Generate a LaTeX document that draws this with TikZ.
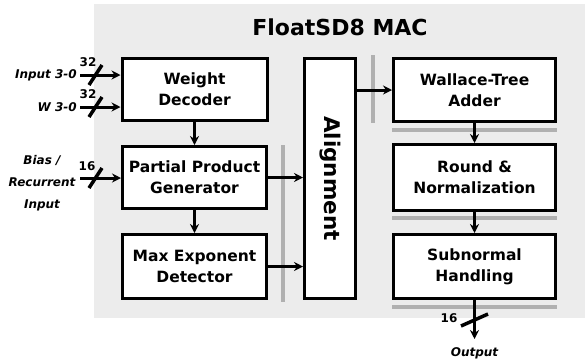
\documentclass[tikz,border=0pt]{standalone}
\usepackage{fontspec}
\setmainfont{DejaVu Sans}
\usetikzlibrary{arrows.meta}
\definecolor{bgc}{HTML}{ECECEC}
\definecolor{barc}{HTML}{B0B0B0}
\tikzset{
  blk/.style={draw=black, line width=3pt, fill=white, inner sep=0pt, align=center,
    font=\fontsize{15.5}{21}\selectfont\bfseries},
  arr/.style={line width=3pt, -{Stealth[length=9pt,width=9pt]}},
  bus/.style={line width=3.5pt},
  gbar/.style={draw=barc, line width=4pt},
  lbl/.style={font=\fontsize{12}{22}\selectfont\bfseries\itshape, align=center, inner sep=0pt},
  num/.style={font=\fontsize{12}{14}\selectfont\bfseries, inner sep=0pt}
}
\begin{document}
\begin{tikzpicture}[x=1pt,y=-1pt]
\useasboundingbox (0,0) rectangle (585,360);
\fill[bgc] (94,4) rectangle (585,318);
\node[font=\fontsize{22}{26}\selectfont\bfseries] (title) at (340,27) {FloatSD8 MAC};
% blocks
\node[blk, minimum width=145pt, minimum height=62pt] (wd) at (194.5,89.5) {Weight\\Decoder};
\node[blk, minimum width=144pt, minimum height=62pt] (pp) at (194.5,177.5) {Partial Product\\Generator};
\node[blk, minimum width=144pt, minimum height=64pt] (me) at (194.5,266.5) {Max Exponent\\Detector};
\node[blk, minimum width=51pt, minimum height=240pt] (al) at (330,178.5) {};
\node[font=\fontsize{21.5}{26}\selectfont\bfseries, rotate=-90] (altext) at (al.center) {Alignment};
\node[blk, minimum width=162pt, minimum height=63pt] (wt) at (474.5,90) {Wallace-Tree\\Adder};
\node[blk, minimum width=162pt, minimum height=66pt] (rn) at (474.5,177.5) {Round \&\\Normalization};
\node[blk, minimum width=162pt, minimum height=64pt] (sh) at (474.5,266.5) {Subnormal\\Handling};
% gray bars
\coordinate (g1a) at (373,55); \coordinate (g1b) at (373,123);
\coordinate (g2a) at (283,145); \coordinate (g2b) at (283,302);
\coordinate (h1a) at (392,130); \coordinate (h1b) at (557,130);
\coordinate (h2a) at (392,218); \coordinate (h2b) at (557,218);
\coordinate (h3a) at (392,307); \coordinate (h3b) at (557,307);
\draw[gbar] (g1a) -- (g1b);
\draw[gbar] (g2a) -- (g2b);
\draw[gbar] (h1a) -- (h1b);
\draw[gbar] (h2a) -- (h2b);
\draw[gbar] (h3a) -- (h3b);
% internal arrows
\draw[arr] (wd.south) -- (pp.north);
\draw[arr] (pp.south) -- (me.north);
\draw[arr] (pp.east) -- (pp.east -| al.west);
\draw[arr] (me.east) -- (me.east -| al.west);
\draw[arr] (al.east |- wt.west) -- (wt.west);
\draw[arr] (wt.south) -- (rn.north);
\draw[arr] (rn.south) -- (sh.north);
% inputs
\coordinate (i1) at (80,75);
\coordinate (i2) at (80,107);
\coordinate (i3) at (80,178);
\node[lbl, anchor=east] (li1) at (77,75) {Input 3-0};
\node[lbl, anchor=east] (li2) at (77,107) {W 3-0};
\node[lbl] (li3) at (42,183) {Bias /\\Recurrent\\Input};
\draw[arr] (i1) -- (i1 -| wd.west);
\draw[arr] (i2) -- (i2 -| wd.west);
\draw[arr] (i3) -- (i3 -| pp.west);
\draw[bus] (89,85) -- (102,65);
\draw[bus] (89,117) -- (102,97);
\draw[bus] (89,188) -- (102,168);
\node[num] (n1) at (88,62) {32};
\node[num] (n2) at (88,94) {32};
\node[num] (n3) at (87,166) {16};
% output
\coordinate (o1) at (474.5,339);
\draw[arr] (sh.south) -- (o1);
\draw[bus] (461,326) -- (488,314);
\node[num] (n4) at (449,318) {16};
\node[lbl] (lo) at (474.5,353) {Output};
\end{tikzpicture}
\end{document}
